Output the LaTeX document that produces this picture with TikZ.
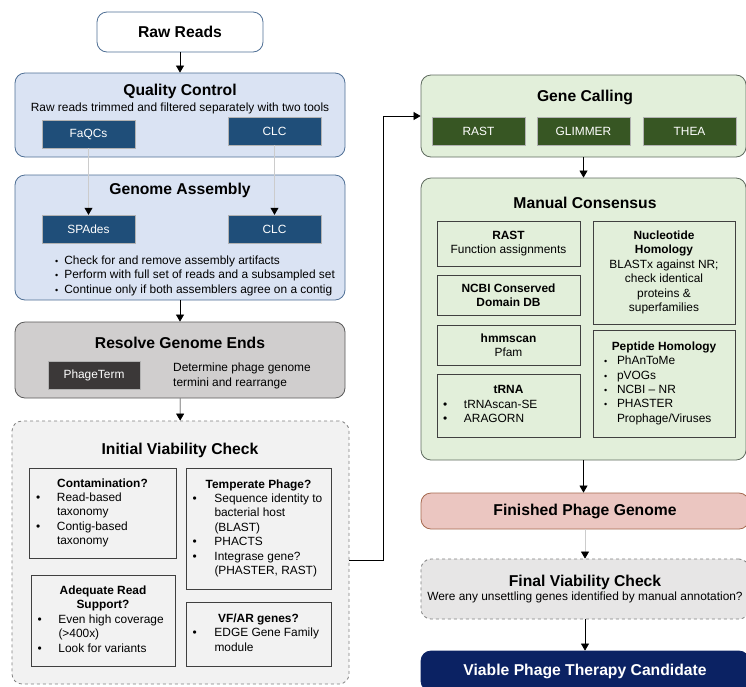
\documentclass[tikz,border=0pt]{standalone}
\usepackage{fontspec}
\setmainfont{Liberation Sans}
\usetikzlibrary{arrows.meta}
\usetikzlibrary{positioning}

\definecolor{qcfill}{HTML}{DAE3F3}
\definecolor{qcdraw}{HTML}{4F6F95}
\definecolor{toolblue}{HTML}{1F4E79}
\definecolor{rgefill}{HTML}{D0CECE}
\definecolor{rgedraw}{HTML}{595959}
\definecolor{termfill}{HTML}{3B3838}
\definecolor{ivcfill}{HTML}{F2F2F2}
\definecolor{gcfill}{HTML}{E2EFDA}
\definecolor{gcdraw}{HTML}{5F6B5F}
\definecolor{toolgreen}{HTML}{375623}
\definecolor{finfill}{HTML}{EBC6C1}
\definecolor{findraw}{HTML}{A5694F}
\definecolor{fvcfill}{HTML}{E7E6E6}
\definecolor{navy}{HTML}{0B2263}

\newcommand{\bigttl}{\fontsize{15.7}{18}\selectfont\bfseries}
\newcommand{\smtxt}{\fontsize{11.9}{14.4}\selectfont}

\begin{document}
\begin{tikzpicture}[x=1pt,y=-1pt,font=\smtxt,
  box/.style={draw,rounded corners=10pt,line width=0.8pt},
  tool/.style={draw=gray!60,fill=toolblue,text=white,minimum width=93pt,minimum height=28pt},
  sub/.style={draw=black!75,fill=ivcfill,line width=0.8pt},
  ttl/.style={font=\bigttl},
  arr/.style={-{Triangle[length=7pt,width=8pt]},line width=0.7pt},
  garr/.style={-{Triangle[length=7pt,width=8pt,color=black]},line width=0.7pt,gray!40}]
\useasboundingbox (0,0) rectangle (746,686);

% left column
\node[box,draw=qcdraw,fill=white,minimum width=166pt,minimum height=40pt,font=\bigttl] (rr) at (180,32) {Raw Reads};

\node[box,draw=qcdraw,fill=qcfill,minimum width=330pt,minimum height=84pt] (qc) at (180,115) {};
\node[ttl] (qct) at (180,91) {Quality Control};
\node (qcs) at (180,108) {Raw reads trimmed and filtered separately with two tools};
\node[tool] (faqcs) at (88.5,134) {FaQCs};
\node[tool] (clcq) at (274.5,131) {CLC};

\node[box,draw=qcdraw,fill=qcfill,minimum width=330pt,minimum height=125pt] (ga) at (180,237.5) {};
\node[ttl] (gat) at (180,190) {Genome Assembly};
\node[tool] (spades) at (88.5,229) {SPAdes};
\node[tool] (clca) at (274.5,229) {CLC};
\node[anchor=west,inner sep=0pt] (gal) at (55,276)
  {\begin{tabular}{@{}l@{\hspace{6pt}}l@{}}
   {\small\textbullet} & Check for and remove assembly artifacts\\
   {\small\textbullet} & Perform with full set of reads and a subsampled set\\
   {\small\textbullet} & Continue only if both assemblers agree on a contig
   \end{tabular}};

\node[box,draw=rgedraw,fill=rgefill,minimum width=330pt,minimum height=76pt] (rge) at (180,360) {};
\node[ttl] (rget) at (180,343) {Resolve Genome Ends};
\node[tool,fill=termfill,minimum width=92pt] (pterm) at (94,375) {PhageTerm};
\node[anchor=west,align=left,inner sep=0pt] (rgel) at (173,376) {Determine phage genome\\termini and rearrange};

\node[box,dashed,draw=gray,fill=ivcfill,minimum width=337pt,minimum height=263pt] (ivc) at (180.5,552.5) {};
\node[ttl] (ivct) at (180,450) {Initial Viability Check};
\node[sub,minimum width=147pt,minimum height=90pt] (cont) at (102.5,513)
  {\begin{tabular}{@{}p{21pt}@{}p{112pt}@{}}
   \multicolumn{2}{c}{\textbf{Contamination?}}\\
   \textbullet & Read-based\\ & taxonomy\\
   \textbullet & Contig-based\\ & taxonomy
   \end{tabular}};
\node[sub,minimum width=145pt,minimum height=121pt] (temp) at (258.5,528.5)
  {\begin{tabular}{@{}p{22pt}@{}p{110pt}@{}}
   \multicolumn{2}{c}{\textbf{Temperate Phage?}}\\
   \textbullet & Sequence identity to\\ & bacterial host\\ & (BLAST)\\
   \textbullet & PHACTS\\
   \textbullet & Integrase gene?\\ & (PHASTER, RAST)
   \end{tabular}};
\node[sub,minimum width=144pt,minimum height=91pt] (reads) at (103,620.5)
  {\begin{tabular}{@{}p{21pt}@{}p{110pt}@{}}
   \multicolumn{2}{c}{\textbf{Adequate Read}}\\
   \multicolumn{2}{c}{\textbf{Support?}}\\
   \textbullet & Even high coverage\\ & (>400x)\\
   \textbullet & Look for variants
   \end{tabular}};
\node[sub,minimum width=145pt,minimum height=64pt] (vfar) at (258.5,634)
  {\begin{tabular}{@{}p{22pt}@{}p{110pt}@{}}
   \multicolumn{2}{c}{\textbf{VF/AR genes?}}\\
   \textbullet & EDGE Gene Family\\ & module
   \end{tabular}};

% right column
\node[box,draw=gcdraw,fill=gcfill,minimum width=325pt,minimum height=82pt] (gc) at (583.5,116) {};
\node[ttl] (gct) at (585,97) {Gene Calling};
\node[tool,fill=toolgreen] (rast) at (478.5,131) {RAST};
\node[tool,fill=toolgreen] (glim) at (583.5,131) {GLIMMER};
\node[tool,fill=toolgreen] (thea) at (689.5,131) {THEA};

\node[box,draw=gcdraw,fill=gcfill,minimum width=325pt,minimum height=282pt] (mc) at (583.5,319) {};
\node[ttl] (mct) at (585,203) {Manual Consensus};
\node[sub,fill=gcfill,minimum width=143pt,minimum height=45pt,align=center] (rastf) at (508.5,243.5)
  {\textbf{RAST}\\Function assignments};
\node[sub,fill=gcfill,minimum width=143pt,minimum height=40pt,align=center] (ncbi) at (508.5,295)
  {\textbf{NCBI Conserved}\\\textbf{Domain DB}};
\node[sub,fill=gcfill,minimum width=143pt,minimum height=40pt,align=center] (hmm) at (508.5,345)
  {\textbf{hmmscan}\\Pfam};
\node[sub,fill=gcfill,minimum width=143pt,minimum height=63pt] (trna) at (508.5,405.5)
  {\begin{tabular}{@{}p{21pt}@{}p{110pt}@{}}
   \multicolumn{2}{c}{\textbf{tRNA}}\\
   \textbullet & tRNAscan-SE\\
   \textbullet & ARAGORN
   \end{tabular}};
\node[sub,fill=gcfill,minimum width=142pt,minimum height=103pt,align=center] (nuc) at (664,272.5)
  {\textbf{Nucleotide}\\\textbf{Homology}\\BLASTx against NR;\\check identical\\proteins \&\\superfamilies};
\node[sub,fill=gcfill,minimum width=142pt,minimum height=107pt] (pep) at (664,383.5)
  {\begin{tabular}{@{\hspace{4pt}}p{13pt}@{}p{111pt}@{}}
   \multicolumn{2}{c}{\textbf{Peptide Homology}}\\
   {\small\textbullet} & PhAnToMe\\
   {\small\textbullet} & pVOGs\\
   {\small\textbullet} & NCBI -- NR\\
   {\small\textbullet} & PHASTER\\ & Prophage/Viruses
   \end{tabular}};

\node[box,draw=findraw,fill=finfill,minimum width=328pt,minimum height=36pt,font=\bigttl] (fin) at (585,511) {Finished Phage Genome};
\node[box,dashed,draw=gray,fill=fvcfill,minimum width=328pt,minimum height=60pt,align=center] (fvc) at (585,589)
  {{\bigttl Final Viability Check}\\[-1pt]Were any unsettling genes identified by manual annotation?};
\node[box,draw=navy,fill=navy,text=white,minimum width=328pt,minimum height=40pt,font=\bigttl] (vpc) at (585,671) {Viable Phage Therapy Candidate};

% connectors
\draw[arr] (rr) -- (qc);
\draw[garr] (faqcs) -- (spades);
\draw[garr] (clcq) -- (clca);
\draw[arr] (ga) -- (rge);
\draw[arr] (rge) -- (ivc);
\draw[arr] ([yshift=-8pt]ivc.east) -- ++(34,0) |- (gc.west);
\draw[arr] (gc) -- (mc);
\draw[arr] (mc.south) -- (mc.south |- fin.north);
\draw[garr] (fin) -- (fvc);
\draw[arr] (fvc) -- (vpc);
\end{tikzpicture}
\end{document}
